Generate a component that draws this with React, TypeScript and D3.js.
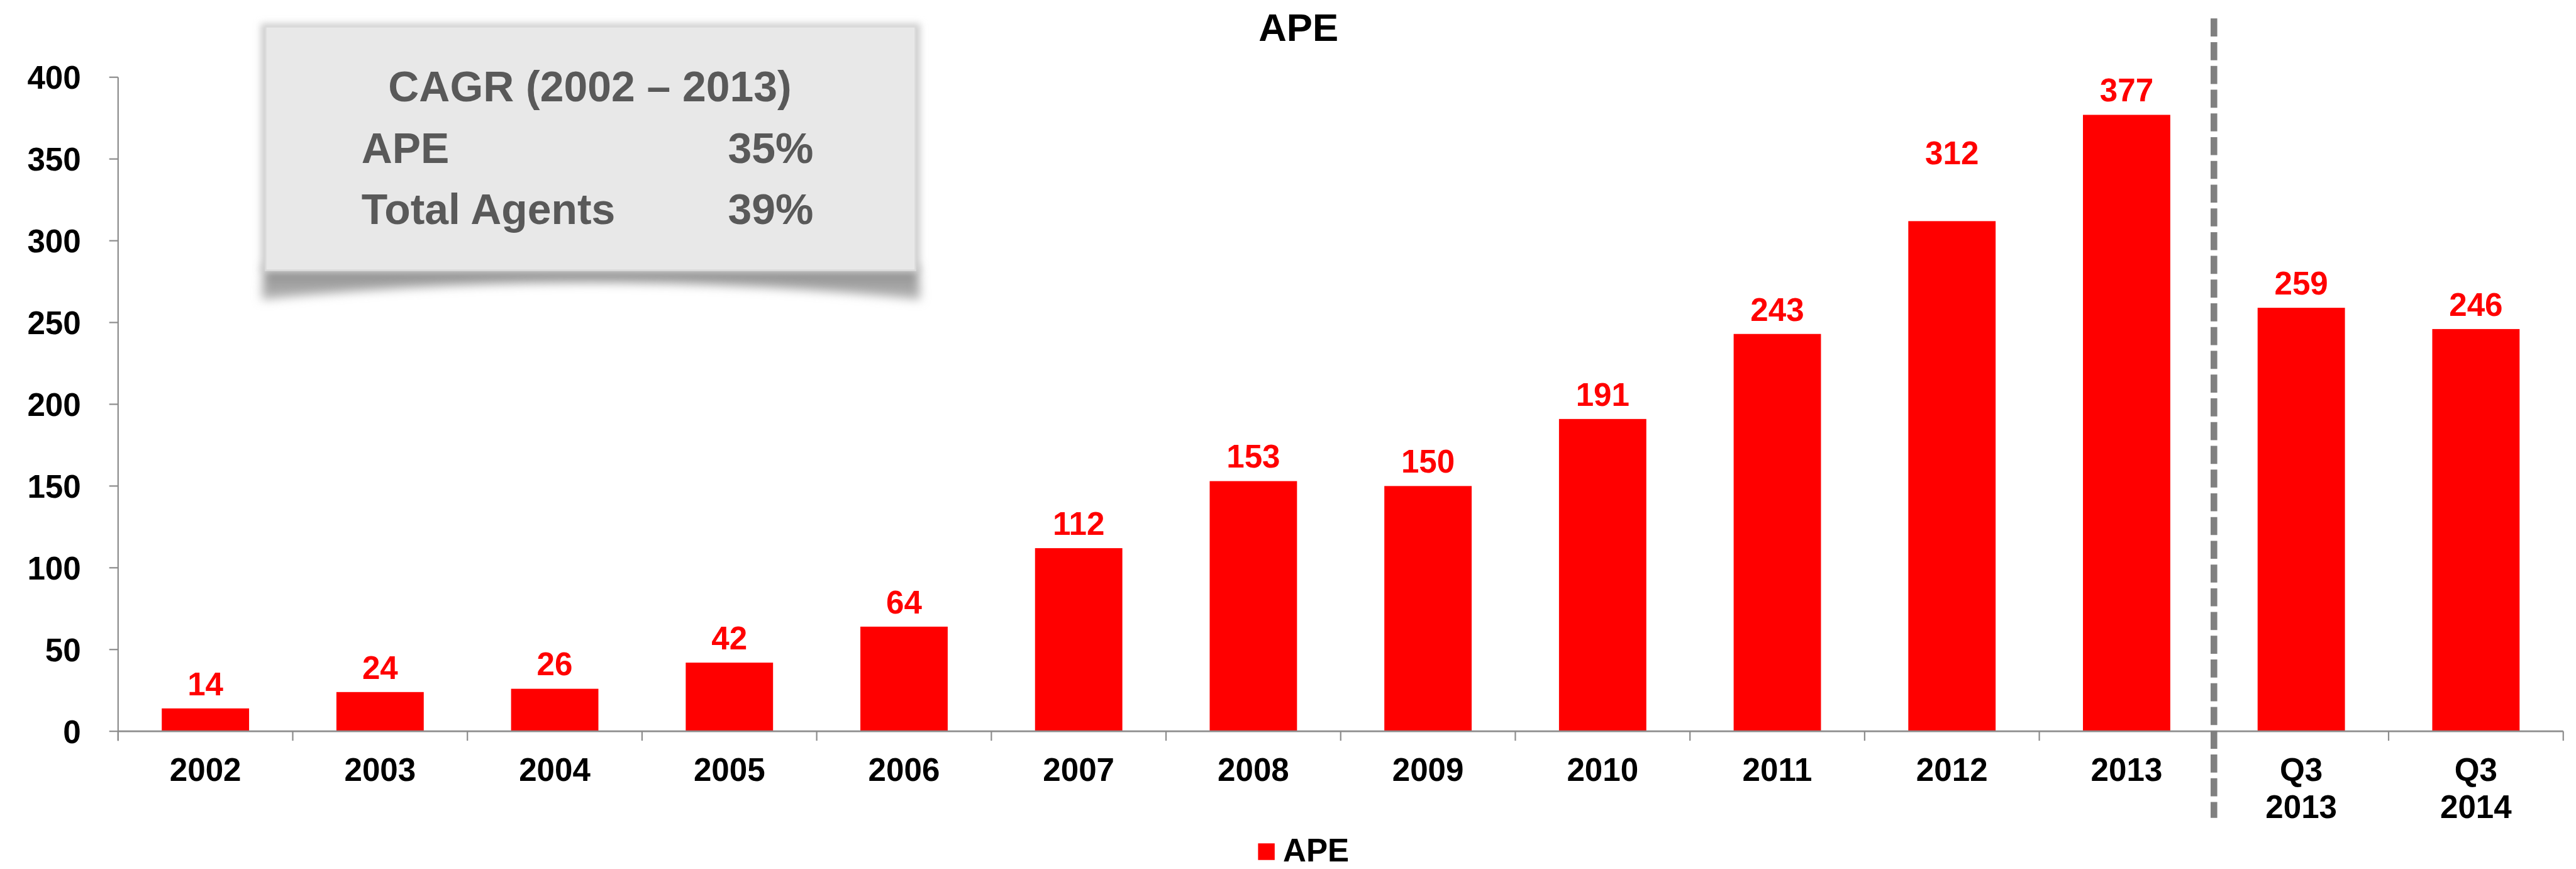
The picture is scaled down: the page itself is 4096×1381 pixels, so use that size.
import React from "react";
import * as d3 from "d3";

const categories: string[] = [
  "2002", "2003", "2004", "2005", "2006", "2007", "2008",
  "2009", "2010", "2011", "2012", "2013", "Q3\n2013", "Q3\n2014",
];
const apeValues: number[] = [14, 24, 26, 42, 64, 112, 153, 150, 191, 243, 312, 377, 259, 246];
const yTicks: number[] = [0, 50, 100, 150, 200, 250, 300, 350, 400];
const chartTitle = "APE";
const seriesName = "APE";
const cagrTitle = "CAGR (2002 \u2013 2013)";
const cagrRows: string[] = ["APE", "Total Agents"];
const cagrValues: string[] = ["35%", "39%"];
// boundary index where the dashed separator sits (between annual and quarterly)
const separatorAfter = 12;

// layout (reference pixel space, scaled by viewBox)
const W = 4646;
const H = 1566;
const X0 = 213;
const X1 = 4623;
const Y0 = 1318;
const Y1 = 139;
const FONT = "'Liberation Sans', Arial, Helvetica, sans-serif";
const AXIS = "#8c8c8c";
const RED = "#ff0000";
// extra lift (px) of individual data labels that were moved by hand
const labelLift: Record<string, number> = { "2012": 78 };

export default function App() {
  const x = d3.scaleBand<string>().domain(categories).range([X0, X1]).paddingInner(0.5).paddingOuter(0.25);
  const y = d3.scaleLinear().domain([0, 400]).range([Y0, Y1]);
  const step = x.step();
  const bounds = d3.range(categories.length + 1).map((i) => X0 + i * step);
  const sepX = X0 + separatorAfter * step;

  return (
    <svg
      width={4096}
      height={1381}
      viewBox={`0 0 ${W} ${H}`}
      style={{ position: "absolute", left: 0, top: 0, display: "block", background: "#fff" }}
      fontFamily={FONT}
    >
      <defs>
        <filter id="blurShadow" x="-20%" y="-50%" width="140%" height="200%">
          <feGaussianBlur stdDeviation="9" />
        </filter>
        <filter id="edgeShadow" x="-10%" y="-10%" width="120%" height="120%">
          <feGaussianBlur stdDeviation="6" />
        </filter>
        <linearGradient id="shadowGrad" x1="0" y1="0" x2="0" y2="1">
          <stop offset="0" stopColor="#8a8a8a" />
          <stop offset="1" stopColor="#b5b5b5" />
        </linearGradient>
      </defs>
      <rect x={0} y={0} width={W} height={H} fill="#fff" />

      {/* title */}
      <text x={2342} y={74} textAnchor="middle" fontSize={70} fontWeight="bold" fill="#000">
        {chartTitle}
      </text>

      {/* CAGR box */}
      <g>
        <path
          d="M 476 478 L 1656 478 L 1660 540 Q 1066 478 472 540 Z"
          fill="url(#shadowGrad)"
          filter="url(#blurShadow)"
        />
        <rect x={470} y={42} width={1190} height={448} fill="#cfcfcf" filter="url(#edgeShadow)" />
        <rect x={479} y={48} width={1172} height={439} fill="#e8e8e8" stroke="#dadada" strokeWidth={3} />
        <text x={1064} y={182} textAnchor="middle" fontSize={77} fontWeight="bold" fill="#595959">
          {cagrTitle}
        </text>
        {cagrRows.map((r, i) => (
          <g key={r}>
            <text x={652} y={293 + i * 111} fontSize={77} fontWeight="bold" fill="#595959">
              {r}
            </text>
            <text x={1467} y={293 + i * 111} textAnchor="end" fontSize={77} fontWeight="bold" fill="#595959">
              {cagrValues[i]}
            </text>
          </g>
        ))}
      </g>

      {/* y axis */}
      <line x1={X0} x2={X0} y1={y(400)} y2={Y0 + 17} stroke={AXIS} strokeWidth={2.5} />
      {yTicks.map((t) => (
        <g key={t}>
          <line x1={X0 - 16} x2={X0} y1={y(t)} y2={y(t)} stroke={AXIS} strokeWidth={2.5} />
          <text x={146} y={y(t)} dy="0.36em" textAnchor="end" fontSize={58} fontWeight="bold" fill="#000">
            {t}
          </text>
        </g>
      ))}

      {/* bars */}
      {categories.map((c, i) => (
        <rect
          key={c}
          x={x(c)!}
          y={y(apeValues[i])}
          width={x.bandwidth()}
          height={Y0 - y(apeValues[i])}
          fill={RED}
        />
      ))}

      {/* x axis */}
      <line x1={X0} x2={X1} y1={Y0} y2={Y0} stroke={AXIS} strokeWidth={3} />
      {bounds.map((b, i) => (
        <line key={i} x1={b} x2={b} y1={Y0} y2={Y0 + 17} stroke={AXIS} strokeWidth={2.5} />
      ))}
      {categories.map((c) => {
        const lines = c.split("\n");
        const cx = x(c)! + x.bandwidth() / 2;
        return (
          <text key={c} x={cx} y={1407} textAnchor="middle" fontSize={58} fontWeight="bold" fill="#000">
            {lines.map((l, j) => (
              <tspan key={j} x={cx} dy={j === 0 ? 0 : 67}>
                {l}
              </tspan>
            ))}
          </text>
        );
      })}

      {/* data labels */}
      {categories.map((c, i) => (
        <text
          key={c}
          x={x(c)! + x.bandwidth() / 2}
          y={y(apeValues[i]) - 24 - (labelLift[c] || 0)}
          textAnchor="middle"
          fontSize={58}
          fontWeight="bold"
          fill={RED}
        >
          {apeValues[i]}
        </text>
      ))}

      {/* separator */}
      <line
        x1={sepX}
        x2={sepX}
        y1={33}
        y2={1474}
        stroke="#808080"
        strokeWidth={12}
        strokeDasharray="32.5 10.3"
      />

      {/* legend */}
      <rect x={2269} y={1520} width={30} height={30} fill={RED} />
      <text x={2314} y={1553} fontSize={58} fontWeight="bold" fill="#000">
        {seriesName}
      </text>
    </svg>
  );
}
